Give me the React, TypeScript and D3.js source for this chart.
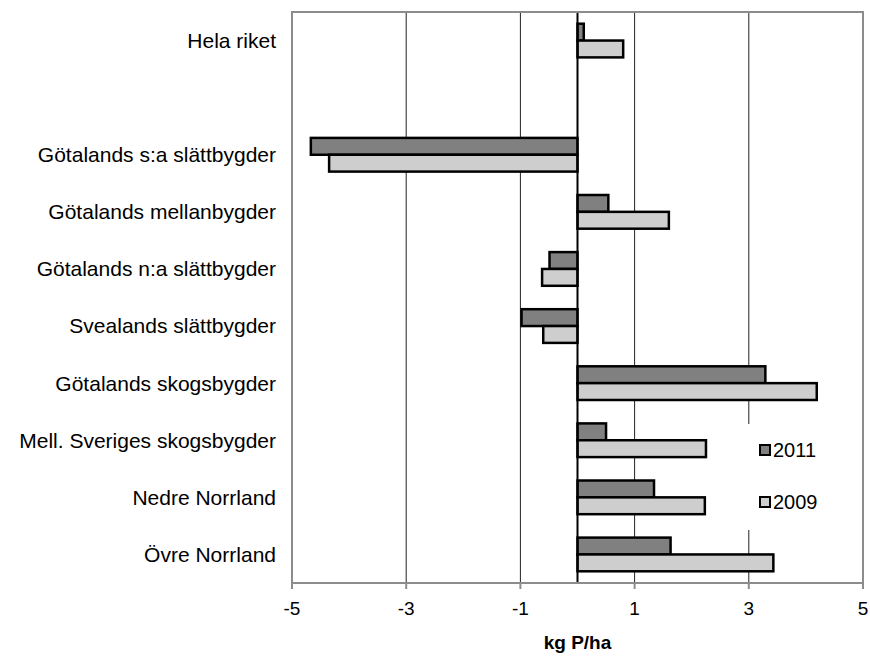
import * as d3 from 'd3'

// categories top to bottom ('' is the empty gap row)
const categories = [
  'Hela riket',
  '',
  'Götalands s:a slättbygder',
  'Götalands mellanbygder',
  'Götalands n:a slättbygder',
  'Svealands slättbygder',
  'Götalands skogsbygder',
  'Mell. Sveriges skogsbygder',
  'Nedre Norrland',
  'Övre Norrland',
]

const series = ['2011', '2009']
const values2011 = [0.11, null, -4.67, 0.54, -0.49, -0.98, 3.29, 0.5, 1.34, 1.63]
const values2009 = [0.8, null, -4.35, 1.6, -0.62, -0.6, 4.19, 2.25, 2.23, 3.43]
const xTicks = [-5, -3, -1, 1, 3, 5]
const colors = ['#808080', '#cecece']

const W = 870
const H = 662
const margin = { top: 12, right: 7, bottom: 79, left: 292 }
const font = "'Liberation Sans', Arial, sans-serif"

export default function App() {
  const innerW = W - margin.left - margin.right
  const innerH = H - margin.top - margin.bottom

  const x = d3.scaleLinear().domain([-5, 5]).range([0, innerW])
  const y = d3
    .scaleBand<string>()
    .domain(categories.map((c, i) => `${i}`))
    .range([0, innerH])
    .paddingInner(0.41)
    .paddingOuter(0.205)
  const ys = d3.scaleBand<string>().domain(series).range([0, y.bandwidth()])

  const all = [values2011, values2009]
  const legendY = [450, 502]

  return (
    <svg width={W} height={H} style={{ display: 'block', position: 'absolute', left: 0, top: 0 }}>
      <rect width={W} height={H} fill="#fff" />
      <g transform={`translate(${margin.left},${margin.top})`}>
        {xTicks
          .filter(t => t !== -5 && t !== 5)
          .map(t => (
            <line key={t} x1={x(t)} x2={x(t)} y1={0} y2={innerH} stroke="#222" strokeWidth={1} />
          ))}
        {/* legend background hides gridline */}
        <rect x={452} y={legendY[0] - margin.top - 26} width={95} height={106} fill="#fff" />
        {categories.map((c, i) =>
          all.map((vals, s) => {
            const v = vals[i]
            if (v === null) return null
            const x0 = x(Math.min(0, v))
            const x1 = x(Math.max(0, v))
            return (
              <rect
                key={`${i}-${s}`}
                x={x0}
                y={y(`${i}`)! + ys(series[s])!}
                width={x1 - x0}
                height={ys.bandwidth()}
                fill={colors[s]}
                stroke="#000"
                strokeWidth={2.5}
              />
            )
          })
        )}
        <line x1={x(0)} x2={x(0)} y1={0} y2={innerH} stroke="#000" strokeWidth={2} />
        <rect x={0} y={0} width={innerW} height={innerH} fill="none" stroke="#8c8c8c" strokeWidth={2} />
        {xTicks.map(t => (
          <g key={t} transform={`translate(${x(t)},${innerH})`}>
            <line y1={0} y2={6} stroke="#8c8c8c" strokeWidth={2} />
            <text y={32} textAnchor="middle" fontFamily={font} fontSize={19} fill="#000">
              {t}
            </text>
          </g>
        ))}
        <text
          x={x(0)}
          y={innerH + 66}
          textAnchor="middle"
          fontFamily={font}
          fontSize={19}
          fontWeight="bold"
          fill="#000"
        >
          kg P/ha
        </text>
        {categories.map((c, i) => (
          <text
            key={i}
            x={-16}
            y={y(`${i}`)! + y.bandwidth() / 2}
            dy="0.35em"
            textAnchor="end"
            fontFamily={font}
            fontSize={21}
            fill="#000"
          >
            {c}
          </text>
        ))}
        {series.map((s, k) => (
          <g key={s} transform={`translate(${765 - margin.left},${legendY[k] - margin.top})`}>
            <rect x={-5} y={-5} width={10} height={10} fill={colors[k]} stroke="#000" strokeWidth={2} />
            <text x={8} dy="0.35em" fontFamily={font} fontSize={20} fill="#000">
              {s}
            </text>
          </g>
        ))}
      </g>
    </svg>
  )
}
